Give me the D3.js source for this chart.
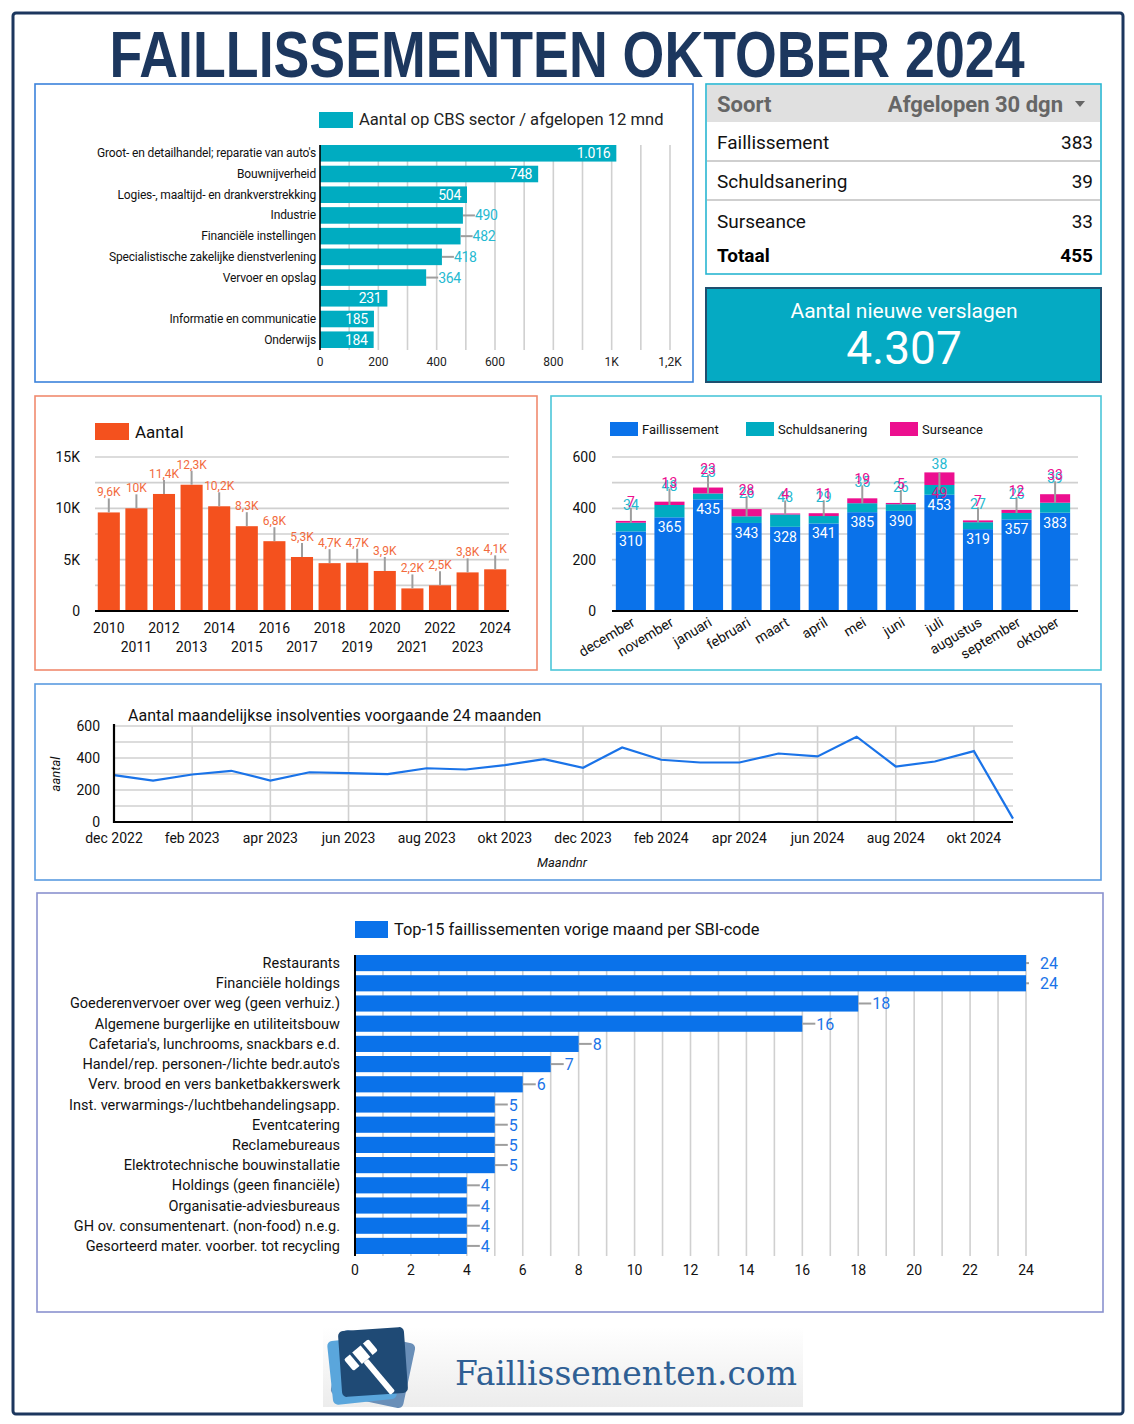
<!DOCTYPE html>
<html>
<head>
<meta charset="utf-8">
<script src="https://cdn.jsdelivr.net/npm/d3@7/dist/d3.min.js"></script>
<style>
  html, body { margin: 0; padding: 0; background: #fff; }
  svg { display: block; font-family: Roboto, "Noto Sans", sans-serif; }
</style>
</head>
<body>
<svg id="board" width="1134" height="1424"></svg>
<script>
// ── Data ───────────────────────────────────────────────────────────────────

const cbsSectors = [
  "Groot- en detailhandel; reparatie van auto's",
  'Bouwnijverheid',
  'Logies-, maaltijd- en drankverstrekking',
  'Industrie',
  'Financiële instellingen',
  'Specialistische zakelijke dienstverlening',
  'Vervoer en opslag',
  '',
  'Informatie en communicatie',
  'Onderwijs',
];
const cbsValues = [1016, 748, 504, 490, 482, 418, 364, 231, 185, 184];

const soorten = ['Faillissement', 'Schuldsanering', 'Surseance'];
const soortValues = [383, 39, 33];
const nieuweVerslagen = 4307;

const years = [2010, 2011, 2012, 2013, 2014, 2015, 2016, 2017, 2018, 2019, 2020, 2021, 2022, 2023, 2024];
const yearValues = [9600, 10000, 11400, 12300, 10200, 8260, 6800, 5260, 4660, 4700, 3900, 2200, 2500, 3760, 4060];

const months = ['december', 'november', 'januari', 'februari', 'maart', 'april', 'mei', 'juni', 'juli', 'augustus', 'september', 'oktober'];
const faillissement  = [310, 365, 435, 343, 328, 341, 385, 390, 453, 319, 357, 383];
const schuldsanering = [34, 48, 23, 26, 48, 29, 35, 26, 38, 27, 25, 39];
const surseance      = [7, 13, 23, 28, 4, 11, 19, 5, 49, 7, 12, 33];

const lineMonths = [
  'dec 2022', 'jan 2023', 'feb 2023', 'mrt 2023', 'apr 2023', 'mei 2023', 'jun 2023', 'jul 2023',
  'aug 2023', 'sep 2023', 'okt 2023', 'nov 2023', 'dec 2023', 'jan 2024', 'feb 2024', 'mrt 2024',
  'apr 2024', 'mei 2024', 'jun 2024', 'jul 2024', 'aug 2024', 'sep 2024', 'okt 2024', 'nov 2024',
];
const lineValues = [293, 259, 297, 320, 259, 311, 305, 299, 336, 328, 355, 393, 339, 466, 389, 372, 372, 428, 410, 533, 347, 378, 443, 21];

const sbiCodes = [
  'Restaurants',
  'Financiële holdings',
  'Goederenvervoer over weg (geen verhuiz.)',
  'Algemene burgerlijke en utiliteitsbouw',
  "Cafetaria's, lunchrooms, snackbars e.d.",
  "Handel/rep. personen-/lichte bedr.auto's",
  'Verv. brood en vers banketbakkerswerk',
  'Inst. verwarmings-/luchtbehandelingsapp.',
  'Eventcatering',
  'Reclamebureaus',
  'Elektrotechnische bouwinstallatie',
  'Holdings (geen financiële)',
  'Organisatie-adviesbureaus',
  'GH ov. consumentenart. (non-food) n.e.g.',
  'Gesorteerd mater. voorber. tot recycling',
];
const sbiValues = [24, 24, 18, 16, 8, 7, 6, 5, 5, 5, 5, 4, 4, 4, 4];

// ── Helpers ────────────────────────────────────────────────────────────────

const NAVY = '#1c375e';
const CYAN = '#00acc1';
const BLUE = '#0a72ea';
const PINK = '#ec0f8f';
const ORANGE = '#f4511e';
const GRID = '#d0d0d0';
const LEADER = '#9e9e9e';

const nl = d3.formatLocale({ decimal: ',', thousands: '.', grouping: [3], currency: ['€', ''] });
const fmtInt = nl.format(',d');
const fmtK = v => v === 0 ? '0' : (Math.round(v / 100) / 10).toString().replace('.', ',') + 'K';

const svg = d3.select('#board');

function panel(x, y, w, h, stroke) {
  svg.append('rect')
    .attr('x', x).attr('y', y).attr('width', w).attr('height', h)
    .attr('fill', '#fff').attr('stroke', stroke).attr('stroke-width', 1.6);
}

function txt(g, x, y, s, size, fill, anchor = 'start') {
  return g.append('text')
    .attr('x', x).attr('y', y)
    .attr('font-size', size).attr('fill', fill)
    .attr('text-anchor', anchor)
    .text(s);
}

// ── Frame + title ──────────────────────────────────────────────────────────

svg.append('rect')
  .attr('x', 13).attr('y', 13).attr('width', 1110).attr('height', 1401).attr('rx', 3)
  .attr('fill', '#fff').attr('stroke', NAVY).attr('stroke-width', 3);

svg.append('text')
  .attr('x', 567).attr('y', 77)
  .attr('text-anchor', 'middle')
  .attr('font-family', '"Liberation Sans", Arial, sans-serif')
  .attr('font-weight', 'bold')
  .attr('font-size', 64)
  .attr('fill', NAVY)
  .attr('textLength', 915)
  .attr('lengthAdjust', 'spacingAndGlyphs')
  .text('FAILLISSEMENTEN OKTOBER 2024');

// ── CBS sector bars ────────────────────────────────────────────────────────

(function cbs() {
  panel(35, 84, 658, 298, '#3b82db');
  const g = svg.append('g');
  const x = d3.scaleLinear([0, 1200], [320, 670]);
  const y = d3.scaleBand(d3.range(cbsValues.length), [145, 348]).paddingInner(0.2);

  g.append('rect').attr('x', 319).attr('y', 112).attr('width', 34).attr('height', 16).attr('fill', CYAN);
  txt(g, 359, 125, 'Aantal op CBS sector / afgelopen 12 mnd', 16.6, '#222');

  g.selectAll('.grid').data(d3.range(100, 1201, 100)).join('line')
    .attr('x1', d => x(d)).attr('x2', d => x(d))
    .attr('y1', 145).attr('y2', 350)
    .attr('stroke', GRID).attr('stroke-width', 1.6);

  g.selectAll('.bar').data(cbsValues).join('rect')
    .attr('x', x(0)).attr('y', (d, i) => y(i))
    .attr('width', d => x(d) - x(0)).attr('height', y.bandwidth())
    .attr('fill', CYAN);

  g.append('line').attr('x1', 320).attr('x2', 320).attr('y1', 145).attr('y2', 350)
    .attr('stroke', '#000').attr('stroke-width', 1.6);

  g.selectAll('.cat').data(cbsSectors).join('text')
    .attr('x', 316).attr('y', (d, i) => y(i) + y.bandwidth() / 2 + 4)
    .attr('text-anchor', 'end').attr('font-size', 12).attr('letter-spacing', -0.15)
    .attr('fill', '#111').text(d => d);

  const outside = d => d > 300 && d < 500;
  cbsValues.forEach((v, i) => {
    const cy = y(i) + y.bandwidth() / 2;
    if (outside(v)) {
      g.append('line').attr('x1', x(v)).attr('x2', x(v) + 12).attr('y1', cy).attr('y2', cy)
        .attr('stroke', LEADER).attr('stroke-width', 2);
      txt(g, x(v) + 12, cy + 5, fmtInt(v), 14, '#26b9d1').attr('letter-spacing', -0.3);
    } else {
      txt(g, x(v) - 6, cy + 5, fmtInt(v), 14, '#fff', 'end').attr('letter-spacing', -0.3);
    }
  });

  g.selectAll('.tick').data(d3.range(0, 1201, 200)).join('text')
    .attr('x', d => x(d)).attr('y', 366).attr('text-anchor', 'middle')
    .attr('font-size', 12).attr('fill', '#222')
    .text(d => d >= 1000 ? fmtK(d) : d);
})();

// ── Table + scorecard ──────────────────────────────────────────────────────

(function table() {
  const g = svg.append('g');
  g.append('rect').attr('x', 706).attr('y', 84).attr('width', 395).attr('height', 190)
    .attr('fill', '#fff').attr('stroke', '#29b6d1').attr('stroke-width', 1.6);
  g.append('rect').attr('x', 707).attr('y', 85).attr('width', 393).attr('height', 37).attr('fill', '#e0e0e0');
  txt(g, 717, 112, 'Soort', 22, '#666').attr('font-weight', 'bold');
  txt(g, 1063, 112, 'Afgelopen 30 dgn', 22, '#666', 'end').attr('font-weight', 'bold');
  g.append('path').attr('d', 'M1075,101 L1085,101 L1080,107 Z').attr('fill', '#666');

  const rowY = [149, 188, 228];
  soorten.forEach((s, i) => {
    txt(g, 717, rowY[i], s, 19, '#111');
    txt(g, 1093, rowY[i], soortValues[i], 19, '#111', 'end');
  });
  [161, 200].forEach(yy => g.append('line').attr('x1', 707).attr('x2', 1100).attr('y1', yy).attr('y2', yy)
    .attr('stroke', '#cfcfcf').attr('stroke-width', 2));
  txt(g, 717, 262, 'Totaal', 19, '#000').attr('font-weight', 'bold');
  txt(g, 1093, 262, d3.sum(soortValues), 19, '#000', 'end').attr('font-weight', 'bold');

  g.append('rect').attr('x', 706).attr('y', 288).attr('width', 395).attr('height', 94)
    .attr('fill', '#05aac3').attr('stroke', '#1f4f6f').attr('stroke-width', 2);
  txt(g, 904, 318, 'Aantal nieuwe verslagen', 21, '#fff', 'middle');
  txt(g, 904, 364, fmtInt(nieuweVerslagen), 46, '#fff', 'middle');
})();

// ── Yearly bars ────────────────────────────────────────────────────────────

(function yearly() {
  panel(35, 396, 502, 274, '#f08a6e');
  const g = svg.append('g');
  const x = d3.scaleBand(years, [95, 509]).paddingInner(0.2).paddingOuter(0.1);
  const y = d3.scaleLinear([0, 15000], [611, 457]);

  g.append('rect').attr('x', 95).attr('y', 423).attr('width', 34).attr('height', 17).attr('fill', ORANGE);
  txt(g, 135, 438, 'Aantal', 17, '#111');

  g.selectAll('.grid').data(d3.range(2500, 15001, 2500)).join('line')
    .attr('x1', 95).attr('x2', 509).attr('y1', d => y(d)).attr('y2', d => y(d))
    .attr('stroke', GRID).attr('stroke-width', 1.6);
  g.selectAll('.yl').data([0, 5000, 10000, 15000]).join('text')
    .attr('x', 80).attr('y', d => y(d) + 5).attr('text-anchor', 'end')
    .attr('font-size', 14).attr('fill', '#111').text(fmtK);

  g.selectAll('.bar').data(yearValues).join('rect')
    .attr('x', (d, i) => x(years[i])).attr('y', d => y(d))
    .attr('width', x.bandwidth()).attr('height', d => y(0) - y(d))
    .attr('fill', ORANGE);

  g.append('line').attr('x1', 95).attr('x2', 509).attr('y1', 611).attr('y2', 611)
    .attr('stroke', '#000').attr('stroke-width', 2);

  yearValues.forEach((v, i) => {
    const cx = x(years[i]) + x.bandwidth() / 2;
    g.append('line').attr('x1', cx).attr('x2', cx).attr('y1', y(v)).attr('y2', y(v) - 14)
      .attr('stroke', LEADER).attr('stroke-width', 2);
    txt(g, cx, y(v) - 16, fmtK(v), 12, '#f26a3d', 'middle');
  });

  years.forEach((yr, i) => {
    txt(g, x(yr) + x.bandwidth() / 2, i % 2 ? 652 : 633, yr, 14, '#111', 'middle');
  });
})();

// ── Monthly stacked bars ───────────────────────────────────────────────────

(function stacked() {
  panel(551, 396, 550, 274, '#4cc6d9');
  const g = svg.append('g');
  const x = d3.scaleBand(months, [612, 1074]).paddingInner(0.22).paddingOuter(0.1);
  const y = d3.scaleLinear([0, 600], [611, 457]);

  const legend = [['Faillissement', BLUE, 610], ['Schuldsanering', CYAN, 746], ['Surseance', PINK, 890]];
  legend.forEach(([name, col, lx]) => {
    g.append('rect').attr('x', lx).attr('y', 422).attr('width', 28).attr('height', 14).attr('fill', col);
    txt(g, lx + 32, 434, name, 13, '#111');
  });

  g.selectAll('.grid').data(d3.range(100, 601, 100)).join('line')
    .attr('x1', 612).attr('x2', 1078).attr('y1', d => y(d)).attr('y2', d => y(d))
    .attr('stroke', GRID).attr('stroke-width', 1.6);
  g.selectAll('.yl').data([0, 200, 400, 600]).join('text')
    .attr('x', 596).attr('y', d => y(d) + 5).attr('text-anchor', 'end')
    .attr('font-size', 14).attr('fill', '#111').text(d => d);

  const rows = months.map((m, i) => ({ m, f: faillissement[i], s: schuldsanering[i], u: surseance[i] }));
  const series = d3.stack().keys(['f', 's', 'u'])(rows);
  const colors = [BLUE, CYAN, PINK];
  series.forEach((ser, k) => {
    g.selectAll('.s' + k).data(ser).join('rect')
      .attr('x', d => x(d.data.m)).attr('y', d => y(d[1]))
      .attr('width', x.bandwidth()).attr('height', d => Math.max(0, y(d[0]) - y(d[1]) - (k === 0 ? 1 : 0)))
      .attr('fill', colors[k]);
  });

  g.append('line').attr('x1', 612).attr('x2', 1078).attr('y1', 611).attr('y2', 611)
    .attr('stroke', '#000').attr('stroke-width', 2);

  rows.forEach(r => {
    const cx = x(r.m) + x.bandwidth() / 2;
    const yTot = y(r.f + r.s + r.u);
    txt(g, cx, y(r.f) + 15, r.f, 14, '#fff', 'middle');
    const overflow = yTot - 28 < y(600);
    if (overflow) {
      g.append('line').attr('x1', cx).attr('x2', cx).attr('y1', y(r.f + r.s / 2)).attr('y2', yTot)
        .attr('stroke', LEADER).attr('stroke-width', 2);
      txt(g, cx, yTot - 3, r.s, 14, '#26b9d1', 'middle');
      txt(g, cx, y(r.f) + 3, r.u, 14, '#d81b8c', 'middle');
    } else {
      g.append('line').attr('x1', cx).attr('x2', cx).attr('y1', y(r.f + r.s)).attr('y2', yTot - 13)
        .attr('stroke', LEADER).attr('stroke-width', 2);
      txt(g, cx, yTot - 11, r.s, 14, '#26b9d1', 'middle');
      txt(g, cx, yTot - 14, r.u, 14, PINK, 'middle');
    }
    g.append('text')
      .attr('transform', `translate(${cx + 5},${625}) rotate(-31)`)
      .attr('text-anchor', 'end').attr('font-size', 14).attr('fill', '#111')
      .text(r.m);
  });
})();

// ── Line chart ─────────────────────────────────────────────────────────────

(function line() {
  panel(35, 684, 1066, 196, '#5b9be0');
  const g = svg.append('g');
  const x = d3.scalePoint(lineMonths, [114, 1013]);
  const y = d3.scaleLinear([0, 600], [822, 726]);

  txt(g, 128, 721, 'Aantal maandelijkse insolventies voorgaande 24 maanden', 16, '#111');

  g.selectAll('.hg').data(d3.range(100, 601, 100)).join('line')
    .attr('x1', 114).attr('x2', 1013).attr('y1', d => y(d)).attr('y2', d => y(d))
    .attr('stroke', GRID).attr('stroke-width', 1.6);
  const shown = lineMonths.filter((d, i) => i % 2 === 0);
  g.selectAll('.vg').data(shown.slice(1)).join('line')
    .attr('x1', d => x(d)).attr('x2', d => x(d)).attr('y1', 726).attr('y2', 822)
    .attr('stroke', GRID).attr('stroke-width', 1.6);

  g.selectAll('.yl').data([0, 200, 400, 600]).join('text')
    .attr('x', 100).attr('y', d => y(d) + 5).attr('text-anchor', 'end')
    .attr('font-size', 14).attr('fill', '#111').text(d => d);
  g.selectAll('.xl').data(shown).join('text')
    .attr('x', d => x(d)).attr('y', 843).attr('text-anchor', 'middle')
    .attr('font-size', 14).attr('fill', '#111').text(d => d);

  g.append('path')
    .datum(lineValues)
    .attr('fill', 'none').attr('stroke', '#1a73e8').attr('stroke-width', 2.2)
    .attr('d', d3.line().x((d, i) => x(lineMonths[i])).y(d => y(d)));

  g.append('path').attr('d', 'M114,724 V822 H1013').attr('fill', 'none')
    .attr('stroke', '#000').attr('stroke-width', 2.2);

  g.append('text').attr('transform', 'translate(60,774) rotate(-90)')
    .attr('text-anchor', 'middle').attr('font-size', 13).attr('font-style', 'italic')
    .attr('fill', '#111').text('aantal');
  txt(g, 562, 867, 'Maandnr', 13, '#111', 'middle').attr('font-style', 'italic');
})();

// ── Top-15 SBI ─────────────────────────────────────────────────────────────

(function sbi() {
  panel(37, 893, 1066, 419, '#8a92cf');
  const g = svg.append('g');
  const x = d3.scaleLinear([0, 24], [355, 1026]);
  const y = d3.scaleBand(sbiCodes, [955, 1254]).paddingInner(0.2);

  g.append('rect').attr('x', 355).attr('y', 921).attr('width', 33).attr('height', 17).attr('fill', BLUE);
  txt(g, 394, 935, 'Top-15 faillissementen vorige maand per SBI-code', 16.4, '#111');

  g.selectAll('.grid').data(d3.range(1, 25)).join('line')
    .attr('x1', d => x(d)).attr('x2', d => x(d)).attr('y1', 955).attr('y2', 1256)
    .attr('stroke', GRID).attr('stroke-width', 1.6);

  g.selectAll('.bar').data(sbiValues).join('rect')
    .attr('x', x(0)).attr('y', (d, i) => y(sbiCodes[i]))
    .attr('width', d => x(d) - x(0)).attr('height', y.bandwidth())
    .attr('fill', BLUE);

  g.append('line').attr('x1', 355).attr('x2', 355).attr('y1', 955).attr('y2', 1256)
    .attr('stroke', '#000').attr('stroke-width', 2);

  g.selectAll('.cat').data(sbiCodes).join('text')
    .attr('x', 340).attr('y', d => y(d) + y.bandwidth() / 2 + 5)
    .attr('text-anchor', 'end').attr('font-size', 14.5).attr('fill', '#111').text(d => d);

  sbiValues.forEach((v, i) => {
    const cy = y(sbiCodes[i]) + y.bandwidth() / 2;
    g.append('line').attr('x1', x(v)).attr('x2', x(v) + (v === 24 ? 3 : 13)).attr('y1', cy).attr('y2', cy)
      .attr('stroke', LEADER).attr('stroke-width', 2);
    txt(g, x(v) + 14, cy + 6, v, 16, '#1a73e8');
  });

  g.selectAll('.tick').data(d3.range(0, 25, 2)).join('text')
    .attr('x', d => x(d)).attr('y', 1275).attr('text-anchor', 'middle')
    .attr('font-size', 14).attr('fill', '#111').text(d => d);
})();

// ── Logo ───────────────────────────────────────────────────────────────────

(function logo() {
  const defs = svg.append('defs');
  const lg = defs.append('linearGradient').attr('id', 'logoBg').attr('x1', 0).attr('y1', 0).attr('x2', 0).attr('y2', 1);
  lg.append('stop').attr('offset', 0).attr('stop-color', '#ffffff');
  lg.append('stop').attr('offset', 1).attr('stop-color', '#ececec');

  const g = svg.append('g');
  g.append('rect').attr('x', 323).attr('y', 1327).attr('width', 480).attr('height', 80).attr('fill', 'url(#logoBg)');

  g.append('rect').attr('x', 336).attr('y', 1336).attr('width', 74).attr('height', 66).attr('rx', 5)
    .attr('fill', '#6a8fb8').attr('transform', 'rotate(12 373 1369)');
  g.append('rect').attr('x', 330).attr('y', 1338).attr('width', 64).attr('height', 64).attr('rx', 5)
    .attr('fill', '#5aa6dc').attr('transform', 'rotate(-6 362 1370)');
  g.append('rect').attr('x', 340).attr('y', 1329).attr('width', 66).attr('height', 66).attr('rx', 5)
    .attr('fill', '#1f4a75').attr('transform', 'rotate(-4 373 1362)');

  const gav = g.append('g').attr('transform', 'translate(372,1362) rotate(-40)');
  gav.append('rect').attr('x', -20).attr('y', -20).attr('width', 32).attr('height', 15).attr('rx', 2).attr('fill', '#fff');
  gav.append('rect').attr('x', -12).attr('y', -21).attr('width', 3).attr('height', 17).attr('fill', '#1f4a75');
  gav.append('rect').attr('x', 2).attr('y', -21).attr('width', 3).attr('height', 17).attr('fill', '#1f4a75');
  gav.append('rect').attr('x', -7).attr('y', -5).attr('width', 6).attr('height', 42).attr('rx', 1.5).attr('fill', '#fff');

  g.append('text').attr('x', 455).attr('y', 1385)
    .attr('font-family', '"DejaVu Serif", "Liberation Serif", serif')
    .attr('font-size', 33).attr('fill', '#2f5f94')
    .attr('textLength', 342).attr('lengthAdjust', 'spacingAndGlyphs')
    .text('Faillissementen.com');
})();
</script>
</body>
</html>
